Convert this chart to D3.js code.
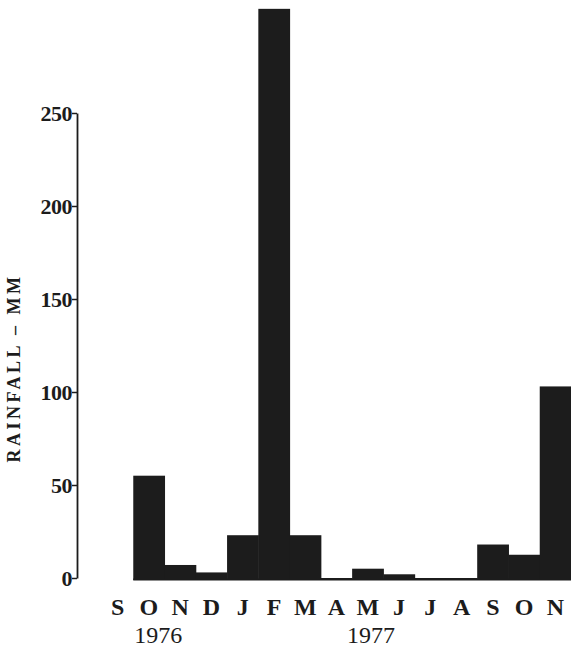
<!DOCTYPE html>
<html>
<head>
<meta charset="utf-8">
<script src="https://cdn.jsdelivr.net/npm/d3@7"></script>
<style>
  html, body { margin: 0; padding: 0; background: #fff; }
  svg { display: block; }
  text { font-family: "Liberation Serif", "Times New Roman", serif; fill: #1c1c1c; }
</style>
</head>
<body>
<svg id="chart" width="571" height="650"></svg>
<script>
// Monthly rainfall, September 1976 to November 1977 (September 1976 not recorded)
const months = ["S", "O", "N", "D", "J", "F", "M", "A", "M", "J", "J", "A", "S", "O", "N"];
const rainfall = [null, 55, 7, 3, 23, 306, 23, 0, 5, 2, 0, 0, 18, 12.5, 103];
const yTicks = [0, 50, 100, 150, 200, 250];
const years = [{ label: "1976", at: 1.3 }, { label: "1977", at: 8.1 }];

const svg = d3.select("#chart");
const ink = "#1c1c1c";

const x = d3.scaleBand()
  .domain(d3.range(months.length))
  .range([102, 571])
  .paddingInner(0)
  .paddingOuter(0);

const y = d3.scaleLinear()
  .domain([0, 250])
  .range([578, 113]);

const recorded = rainfall
  .map((v, i) => ({ i, v }))
  .filter(d => d.v !== null);

// bars
svg.append("g")
  .selectAll("rect")
  .data(recorded)
  .join("rect")
  .attr("x", d => x(d.i))
  .attr("width", x.bandwidth() + 0.5)
  .attr("y", d => y(d.v))
  .attr("height", d => y(0) - y(d.v) + 2)
  .attr("fill", ink);

// baseline under the bars
svg.append("line")
  .attr("x1", x(recorded[0].i)).attr("x2", 571)
  .attr("y1", y(0) + 1.5).attr("y2", y(0) + 1.5)
  .attr("stroke", ink).attr("stroke-width", 2);

// y axis
const yAxis = d3.axisLeft(y)
  .tickValues(yTicks)
  .tickSize(5)
  .tickSizeOuter(0)
  .tickPadding(0)
  .tickFormat(d3.format("d"));

const ga = svg.append("g")
  .attr("transform", "translate(77,0)")
  .call(yAxis);
ga.attr("font-family", null);
ga.select(".domain").attr("stroke", ink).attr("stroke-width", 1.8);
ga.selectAll(".tick line").attr("stroke", ink).attr("stroke-width", 1.5);
ga.selectAll(".tick text")
  .attr("font-size", 22)
  .attr("font-weight", "bold")
  .attr("letter-spacing", -0.5)
  .attr("dy", "0.36em")
  .attr("fill", ink);

// y axis title
svg.append("text")
  .attr("transform", `translate(20,368) rotate(-90)`)
  .attr("text-anchor", "middle")
  .attr("font-size", 18)
  .attr("font-weight", "bold")
  .attr("letter-spacing", 3.5)
  .text("RAINFALL – MM");

// month labels
svg.append("g")
  .selectAll("text")
  .data(months)
  .join("text")
  .attr("x", (d, i) => x(i) + x.bandwidth() / 2)
  .attr("y", 615)
  .attr("text-anchor", "middle")
  .attr("font-size", 24)
  .attr("font-weight", "bold")
  .text(d => d);

// year labels
svg.append("g")
  .selectAll("text")
  .data(years)
  .join("text")
  .attr("x", d => x(0) + d.at * x.bandwidth() + x.bandwidth() / 2)
  .attr("y", 643)
  .attr("text-anchor", "middle")
  .attr("font-size", 24)
  .text(d => d.label);
</script>
</body>
</html>
